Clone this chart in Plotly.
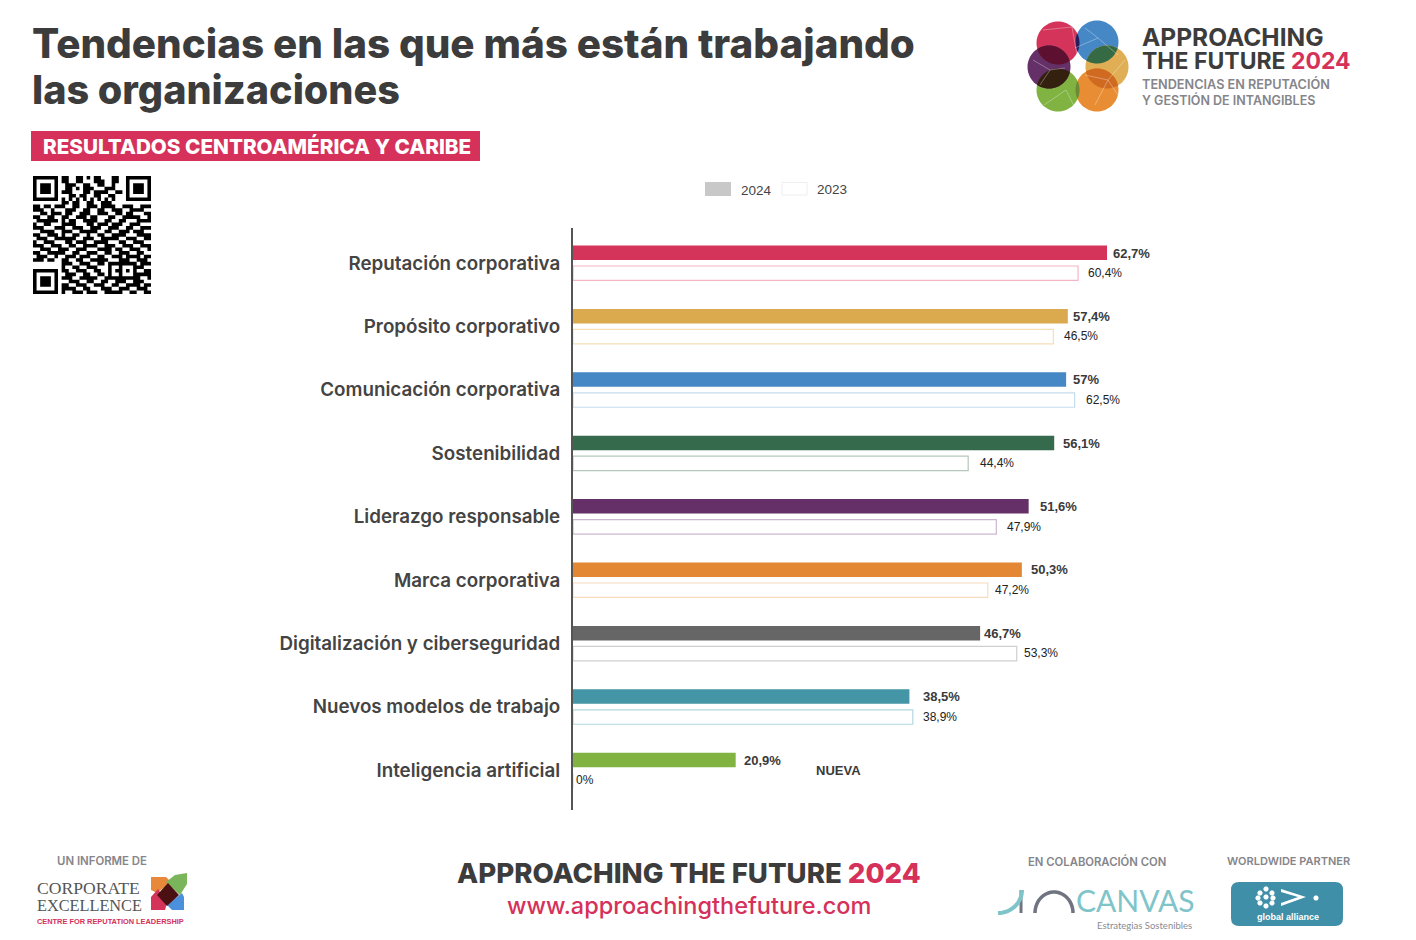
import numpy as np
import plotly.graph_objects as go

W, H = 1416, 940

categories = ["Reputación corporativa", "Propósito corporativo", "Comunicación corporativa",
              "Sostenibilidad", "Liderazgo responsable", "Marca corporativa",
              "Digitalización y ciberseguridad", "Nuevos modelos de trabajo", "Inteligencia artificial"]
drawn_2024 = [62.7, 58.1, 57.9, 56.5, 53.5, 52.7, 47.8, 39.5, 19.1]
drawn_2023 = [59.3, 56.4, 58.9, 46.4, 49.7, 48.7, 52.1, 39.9, 0]
labels_2024 = ["62,7%", "57,4%", "57%", "56,1%", "51,6%", "50,3%", "46,7%", "38,5%", "20,9%"]
labels_2023 = ["60,4%", "46,5%", "62,5%", "44,4%", "47,9%", "47,2%", "53,3%", "38,9%", "0%"]

# ---------- styles ----------
colors_2024 = ["#d43459", "#dcaa4e", "#4688c5", "#366a4c", "#653068", "#e48734", "#666666", "#4495a5", "#80b342"]
outline_2023 = ["#f4b6c4", "#f5dfb5", "#c5dcf0", "#b5c8bc", "#cbb8cf", "#f7dcbc", "#cfcfcf", "#b2d7df", "#d5e6bf"]
gap_2024 = [4, 3, 5, 7, 9, 7, 2, 12, 6]
gap_2023 = [8, 9, 9, 10, 9, 5, 5, 8, 1]
DARK = "#3c3c3c"
RED = "#d5315a"
GREY = "#85858a"
HEAD = "Inter"

qr_rows = [
    "00000000110011010110001100000000",
    "00000000110011000111001100000000",
    "00000000011100110011001000000000",
    "00000000011010111000111000000000",
    "00000000111000110111100110000000",
    "00000000001101100110011000000000",
    "00000000101010101010101000000000",
    "00000000110110011001110000000000",
    "110110111001100111011110011100111",
    "111001000111001100110011100111100",
    "001101110110011100111001101100011",
    "110011001100111011000110011111001",
    "011111101011001111001100110001111",
    "100110001111000110111011100111000",
    "111000111001110011100111001100111",
    "001111001110011111001100111011100",
    "110011101001100100110011110001111",
    "011100111111001110011111001110011",
    "100111000110111001111000110011100",
    "111001110011001111001110011100111",
    "001110011100111000111101100111001",
    "110011111001100111001100111001100",
    "011100100111011100110011101111011",
    "111011001100110011111000111001110",
    "000000001110011100110111111100111",
    "000000001001100111000100011001100",
    "000000001100111001100101011110011",
    "000000000111001100110100010011111",
    "000000001110011111001111100111001",
    "000000000011100110011001110011100",
    "000000001100111001110011001111011",
    "000000001111001100011100111001110",
    "000000001001110111001111100110011",
]


def fx(x):
    return x / W


def fy(y):
    return 1 - y / H


shapes, annos = [], []


def poly(points, fill, opacity=1.0, line=None, lw=0):
    d = "M " + " L ".join(f"{fx(x):.5f},{fy(y):.5f}" for x, y in points) + " Z"
    shapes.append(dict(type="path", xref="paper", yref="paper", path=d, fillcolor=fill, opacity=opacity,
                       line=dict(color=line or fill, width=lw), layer="above"))


def rect(x0, y0, x1, y1, fill, line=None, lw=0):
    shapes.append(dict(type="rect", xref="paper", yref="paper", x0=fx(x0), x1=fx(x1), y0=fy(y0), y1=fy(y1),
                       fillcolor=fill, line=dict(color=line or fill, width=lw), layer="above"))


def stroke(points, color, lw=1.0, opacity=1.0):
    d = "M " + " L ".join(f"{fx(x):.5f},{fy(y):.5f}" for x, y in points)
    shapes.append(dict(type="path", xref="paper", yref="paper", path=d, opacity=opacity,
                       line=dict(color=color, width=lw), layer="above"))


def circle_pts(cx, cy, r, n=72):
    t = np.linspace(0, 2 * np.pi, n, endpoint=False)
    return list(zip(cx + r * np.cos(t), cy + r * np.sin(t)))


def lens_pts(a, b, n=40):
    (x1, y1, r1), (x2, y2, r2) = a, b
    d = np.hypot(x2 - x1, y2 - y1)
    base = np.arctan2(y2 - y1, x2 - x1)
    h1 = np.arccos(d / 2 / r1)
    t1 = np.linspace(base - h1, base + h1, n)
    t2 = np.linspace(base + np.pi - h1, base + np.pi + h1, n)
    return list(zip(x1 + r1 * np.cos(t1), y1 + r1 * np.sin(t1))) + list(zip(x2 + r2 * np.cos(t2), y2 + r2 * np.sin(t2)))


def text(x, y, s, size, color=DARK, family=HEAD, weight=400, anchor="left"):
    annos.append(dict(xref="paper", yref="paper", x=fx(x), y=fy(y), text=s, showarrow=False,
                      xanchor=anchor, yanchor="middle", borderpad=0,
                      font=dict(size=size, color=color, family=family, weight=weight)))


# ---------- header ----------
text(31, 43, "Tendencias en las que más están trabajando", 40.4, DARK, weight=800)
text(31, 90, "las organizaciones", 39.6, DARK, weight=800)
rect(31, 131, 480, 161, RED)
text(42, 146, "RESULTADOS CENTROAMÉRICA Y CARIBE", 20.7, "#ffffff", weight=800)

# ---------- QR ----------
m = 118 / 33
grid = [[c == "1" for c in r.ljust(33, "0")[:33]] for r in qr_rows]
def block(r0, c0, n):
    for r in range(n):
        for c in range(n):
            edge = r in (0, n - 1) or c in (0, n - 1)
            inner = (n == 7 and 2 <= r <= 4 and 2 <= c <= 4) or (n == 5 and r == 2 and c == 2)
            grid[r0 + r][c0 + c] = edge or inner
block(0, 0, 7); block(0, 26, 7); block(26, 0, 7); block(24, 24, 5)
path = ""
for r, row in enumerate(grid):
    for c, on in enumerate(row):
        if on:
            x0, x1, y0, y1 = 33 + c * m, 33 + (c + 1) * m, 176 + r * m, 176 + (r + 1) * m
            path += f"M {fx(x0):.5f},{fy(y0):.5f} L {fx(x1):.5f},{fy(y0):.5f} L {fx(x1):.5f},{fy(y1):.5f} L {fx(x0):.5f},{fy(y1):.5f} Z "
shapes.append(dict(type="path", xref="paper", yref="paper", path=path, fillcolor="#000000", line=dict(width=0), layer="above"))

# ---------- top-right logo ----------
cc = [(1058, 43, 21.5, "#d43459"), (1097, 42, 21.5, "#4688c5"), (1107, 67, 21.5, "#e0ae55"),
      (1097, 90, 21.5, "#e88d33"), (1058, 90, 21.5, "#80b342"), (1049, 67, 21.5, "#653068")]
for x, y, r, col in cc:
    poly(circle_pts(x, y, r), col)
for i, j, col in [(0, 5, "#5e1030"), (0, 1, "#2a1a5e"), (1, 2, "#356a45"), (2, 3, "#d06a20"),
                  (3, 4, "#6f8a35"), (4, 5, "#33200f")]:
    poly(lens_pts(cc[i][:3], cc[j][:3]), col)
for seg in [[(1043, 30), (1072, 27), (1078, 60)], [(1085, 28), (1098, 38), (1118, 55)], [(1033, 60), (1050, 70), (1065, 68)],
            [(1044, 105), (1066, 90), (1075, 108)], [(1085, 75), (1108, 80), (1118, 95)], [(1075, 48), (1098, 38)],
            [(1040, 85), (1050, 70)], [(1095, 105), (1108, 80), (1125, 60)]]:
    stroke(seg, "rgba(255,255,255,0.45)", 0.7)
text(1141, 37, "APPROACHING", 24.5, DARK, weight=700)
text(1141, 61, f'THE FUTURE <span style="color:{RED}">2024</span>', 23, DARK, weight=700)
text(1141, 84, "TENDENCIAS EN REPUTACIÓN", 12.7, GREY, weight=600)
text(1141, 100, "Y GESTIÓN DE INTANGIBLES", 12.5, GREY, weight=600)

# ---------- legend ----------
rect(705, 182, 731, 196, "#c8c8c8")
rect(782, 182.5, 807, 195, "#ffffff", "#eeeeee", 1)
text(740, 190, "2024", 13.5, "#444444", "Liberation Sans")
text(816, 189, "2023", 13.5, "#444444", "Liberation Sans")

# ---------- footer ----------
text(102, 861, "UN INFORME DE", 11.4, GREY, weight=600, anchor="center")
text(36, 888, "CORPORATE", 17.6, "#555555", "Liberation Serif")
text(36, 905, "EXCELLENCE", 16.3, "#555555", "Liberation Serif")
text(36, 921, "CENTRE FOR REPUTATION LEADERSHIP", 7.4, RED, "Liberation Sans", 700)
poly([(151, 877), (166, 877), (171, 882), (157, 893), (151, 890)], "#e8883a")
poly([(166, 882), (175, 875), (187, 873), (187, 884), (180, 895)], "#7ab55c")
poly([(151, 897), (158, 889), (167, 903), (165, 910), (151, 910)], "#d43459")
poly([(167, 905), (182, 893), (184, 897), (184, 910), (172, 910)], "#4a90dc")
poly([(157, 895), (168, 883), (179, 895), (167, 906)], "#4a1012")

text(689, 873, f'APPROACHING THE FUTURE <span style="color:{RED}">2024</span>', 27.6, DARK, weight=800, anchor="center")
text(689, 905, "www.approachingthefuture.com", 23.5, RED, weight=500, anchor="center")

text(1097, 861, "EN COLABORACIÓN CON", 11.3, GREY, weight=600, anchor="center")
t = np.linspace(np.pi, 0, 30)
stroke(list(zip(1054 + 19 * np.cos(t), 913 - 21 * np.sin(t))), "#6f7480", 3.5)
stroke([(1021, 913), (1021, 890)], "#6f7480", 3)
a = np.linspace(0, np.pi / 2, 20)
stroke(list(zip(998 + 24 * np.sin(a), 913 - 23 * (1 - np.cos(a)))), "#7fc4c9", 4)
text(1135, 900, "CANVAS", 30, "#7fc4c9", "Lato", 400, anchor="center")
text(1144, 925, "Estrategias Sostenibles", 9.5, "#8a8a90", "Lato", anchor="center")

text(1288, 861, "WORLDWIDE PARTNER", 11, GREY, weight=600, anchor="center")
rx = 8
gx0, gy0, gx1, gy1 = 1231, 882, 1343, 926
shapes.append(dict(type="path", xref="paper", yref="paper", layer="above", fillcolor="#3f8fa8", line=dict(width=0),
                   path=(f"M {fx(gx0+rx)},{fy(gy0)} L {fx(gx1-rx)},{fy(gy0)} Q {fx(gx1)},{fy(gy0)} {fx(gx1)},{fy(gy0+rx)} "
                         f"L {fx(gx1)},{fy(gy1-rx)} Q {fx(gx1)},{fy(gy1)} {fx(gx1-rx)},{fy(gy1)} "
                         f"L {fx(gx0+rx)},{fy(gy1)} Q {fx(gx0)},{fy(gy1)} {fx(gx0)},{fy(gy1-rx)} "
                         f"L {fx(gx0)},{fy(gy0+rx)} Q {fx(gx0)},{fy(gy0)} {fx(gx0+rx)},{fy(gy0)} Z")))
for dx, dy in [(1260, 893), (1266, 889), (1272, 893), (1258, 898), (1266, 897), (1273, 898), (1260, 903), (1266, 906), (1272, 903)]:
    poly(circle_pts(dx, dy, 2.6, 16), "#ffffff")
poly([(1281, 889), (1306, 897), (1281, 906), (1281, 903), (1298, 897), (1281, 892)], "#ffffff")
poly(circle_pts(1316, 898, 2.6, 16), "#ffffff")
text(1287.5, 917, "global alliance", 9, "#ffffff", "Liberation Sans", 700, anchor="center")

# ---------- chart ----------
fig = go.Figure()
fig.add_bar(y=categories, x=drawn_2024, orientation="h", name="2024", marker=dict(color=colors_2024, line=dict(width=0)),
            cliponaxis=False, hoverinfo="skip")
fig.add_bar(y=categories, x=drawn_2023, orientation="h", name="2023",
            marker=dict(color="#ffffff", line=dict(color=outline_2023, width=1.2)), hoverinfo="skip")

for i, cat in enumerate(categories):
    annos.append(dict(xref="x", yref="y", x=drawn_2024[i], y=cat, text=labels_2024[i], showarrow=False, xanchor="left",
                      xshift=gap_2024[i], yshift=10, font=dict(size=13, color="#3a3a3a", family="Liberation Sans", weight=700)))
    annos.append(dict(xref="x", yref="y", x=drawn_2023[i], y=cat, text=labels_2023[i], showarrow=False, xanchor="left",
                      xshift=gap_2023[i], yshift=-10, font=dict(size=12, color="#222222", family="Liberation Sans")))
text(815, 770, "NUEVA", 13, "#3a3a3a", "Liberation Sans", 700)

fig.update_layout(
    width=W, height=H, margin=dict(l=0, r=0, t=0, b=0), paper_bgcolor="#ffffff", plot_bgcolor="#ffffff",
    barmode="group", bargap=0.354, bargroupgap=0.293, showlegend=False, shapes=shapes, annotations=annos,
    font=dict(family=HEAD),
    xaxis=dict(domain=[573 / W, 1173 / W], range=[0, 600 / 8.517], visible=False, fixedrange=True),
    yaxis=dict(domain=[1 - 810 / H, 1 - 228 / H], range=[8.628, -0.552], type="category", categoryorder="array",
               categoryarray=categories, showgrid=False, zeroline=False, showline=True, linecolor="#555555", linewidth=2,
               ticks="", ticklabelstandoff=7, tickfont=dict(size=18.8, color="#444444", family=HEAD, weight=600), fixedrange=True),
)

fig.write_html("out.html", config=dict(displayModeBar=False), post_script="document.body.style.margin='0';")
